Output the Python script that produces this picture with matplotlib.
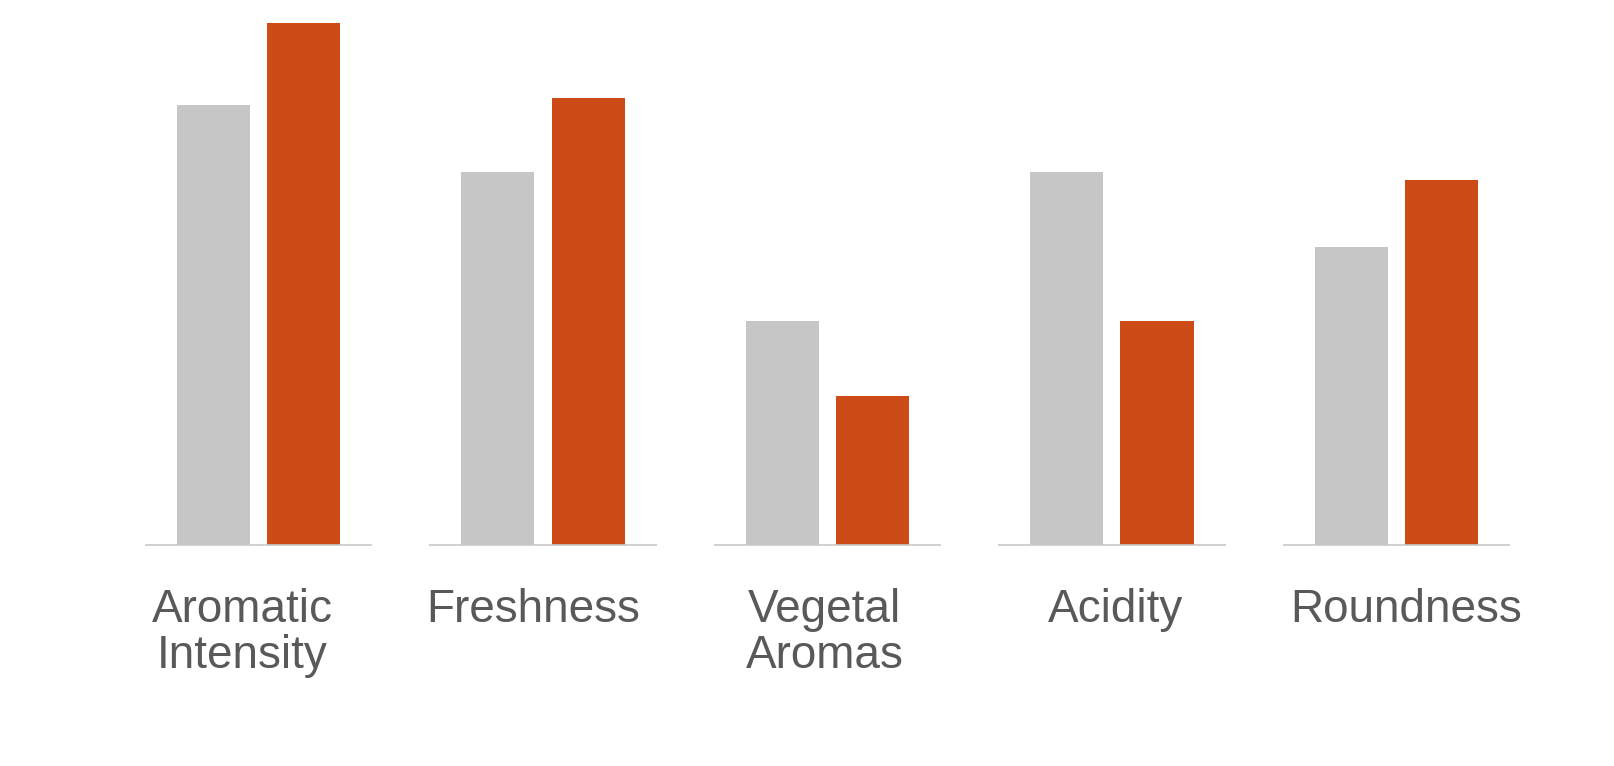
import numpy as np
import matplotlib.pyplot as plt

# Data
categories = ["Aromatic\nIntensity", "Freshness", "Vegetal\nAromas", "Acidity", "Roundness"]
before = [5.9, 5.0, 3.0, 5.0, 4.0]   # grey series
after = [7.0, 6.0, 2.0, 3.0, 4.9]    # orange series

GREY = "#C6C6C6"
ORANGE = "#CC4B17"
TEXT = "#595959"

plt.rcParams['font.family'] = ['Liberation Sans', 'DejaVu Sans']

fig = plt.figure(figsize=(16.15, 7.66), dpi=100)
ax = fig.add_axes([0.07198, 1 - 545 / 766, 0.8808, 0.7003])

x = np.arange(len(categories))
w = 0.2566
off = 0.1582
ax.bar(x - off, before, width=w, color=GREY, linewidth=0)
ax.bar(x + off, after, width=w, color=ORANGE, linewidth=0)

# separate baseline under each group
for xi in x:
    ax.plot([xi - 0.40, xi + 0.40], [0, 0], color="#C8C8C8", lw=1.2,
            solid_capstyle='butt', clip_on=False, zorder=3)

ax.set_xlim(-0.5, len(categories) - 0.5)
ax.set_ylim(0, 7.2)
# labels sit a little wider apart than the bar groups
mid = (len(categories) - 1) / 2
label_pos = mid - 0.011 + (x - mid) * 1.023
ax.set_xticks(label_pos)
ax.set_xticklabels(categories, fontsize=33, color=TEXT, linespacing=1.07,
                   multialignment='center')
ax.tick_params(axis='x', length=0, pad=31)
ax.set_yticks([])
for s in ax.spines.values():
    s.set_visible(False)

fig.savefig("out.png", dpi=100)
